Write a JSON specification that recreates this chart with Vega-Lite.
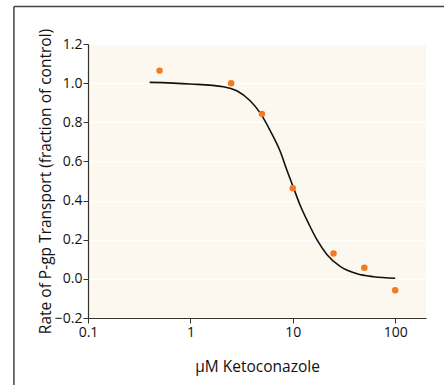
{
  "$schema": "https://vega.github.io/schema/vega-lite/v6.json",
  "width": 338,
  "height": 274,
  "autosize": {"type": "none"},
  "padding": {"left": 88, "top": 44, "right": 18, "bottom": 67},
  "background": "white",
  "config": {
    "font": "Open Sans",
    "view": {"fill": "#fcf8f0", "stroke": null},
    "axis": {
      "labelFont": "Open Sans",
      "titleFont": "Open Sans",
      "labelFontSize": 14,
      "titleFontSize": 15.5,
      "titleFontWeight": "normal",
      "labelColor": "#111",
      "titleColor": "#111",
      "domainColor": "#333",
      "tickColor": "#333",
      "domainWidth": 1.2,
      "tickSize": 5,
      "labelOverlap": false,
      "labelFlush": false
    }
  },
  "datasets": {
    "points": [
      {"conc": 0.5, "rate": 1.064},
      {"conc": 2.5, "rate": 1.0},
      {"conc": 5, "rate": 0.843},
      {"conc": 10, "rate": 0.463},
      {"conc": 25, "rate": 0.13},
      {"conc": 50, "rate": 0.057},
      {"conc": 100, "rate": -0.058}
    ],
    "curve": [
      {"conc": 0.4, "rate": 1.004},
      {"conc": 0.99, "rate": 0.996},
      {"conc": 2.1, "rate": 0.982},
      {"conc": 2.84, "rate": 0.961},
      {"conc": 3.83, "rate": 0.91},
      {"conc": 4.8, "rate": 0.848},
      {"conc": 6.01, "rate": 0.758},
      {"conc": 7.53, "rate": 0.652},
      {"conc": 8.75, "rate": 0.556},
      {"conc": 10.2, "rate": 0.463},
      {"conc": 11.8, "rate": 0.376},
      {"conc": 14.2, "rate": 0.285},
      {"conc": 17.2, "rate": 0.2},
      {"conc": 21.5, "rate": 0.125},
      {"conc": 29.0, "rate": 0.064},
      {"conc": 42.4, "rate": 0.026},
      {"conc": 61.6, "rate": 0.011},
      {"conc": 100, "rate": 0.003}
    ]
  },
  "layer": [
    {
      "data": {"name": "curve"},
      "mark": {"type": "line", "color": "#111", "strokeWidth": 1.6, "interpolate": "monotone"},
      "encoding": {
        "x": {
          "field": "conc",
          "type": "quantitative",
          "scale": {"type": "log", "domain": [0.1, 200], "nice": false},
          "axis": {
            "title": "µM Ketoconazole",
            "values": [0.1, 1, 10, 100],
            "labelExpr": "'' + datum.value",
            "grid": false,
            "labelPadding": 2,
            "titlePadding": 20
          }
        },
        "y": {
          "field": "rate",
          "type": "quantitative",
          "scale": {"domain": [-0.2, 1.2], "nice": false, "zero": false},
          "axis": {
            "title": "Rate of P-gp Transport (fraction of control)",
            "values": [-0.2, 0, 0.2, 0.4, 0.6, 0.8, 1.0, 1.2],
            "format": ".1f",
            "grid": true,
            "gridColor": "white",
            "gridWidth": 1.5,
            "gridOpacity": 1,
            "labelPadding": 1,
            "titlePadding": 1
          }
        }
      }
    },
    {
      "data": {"name": "points"},
      "mark": {"type": "circle", "color": "#f47a20", "opacity": 1, "size": 42},
      "encoding": {
        "x": {
          "field": "conc",
          "type": "quantitative",
          "axis": {
            "title": "µM Ketoconazole",
            "values": [0.1, 1, 10, 100],
            "labelExpr": "'' + datum.value",
            "grid": false,
            "labelPadding": 2,
            "titlePadding": 20
          }
        },
        "y": {
          "field": "rate",
          "type": "quantitative",
          "axis": {
            "title": "Rate of P-gp Transport (fraction of control)",
            "values": [-0.2, 0, 0.2, 0.4, 0.6, 0.8, 1.0, 1.2],
            "format": ".1f",
            "grid": true,
            "gridColor": "white",
            "gridWidth": 1.5,
            "gridOpacity": 1,
            "labelPadding": 1,
            "titlePadding": 1
          }
        }
      }
    },
    {
      "data": {"values": [{}]},
      "mark": {"type": "rule", "color": "#444", "strokeWidth": 1.5, "clip": false},
      "encoding": {
        "x": {
          "datum": 0.0189,
          "axis": {
            "title": "µM Ketoconazole",
            "values": [0.1, 1, 10, 100],
            "labelExpr": "'' + datum.value",
            "grid": false,
            "labelPadding": 2,
            "titlePadding": 20
          }
        },
        "y": {
          "datum": 1.391,
          "axis": {
            "title": "Rate of P-gp Transport (fraction of control)",
            "values": [-0.2, 0, 0.2, 0.4, 0.6, 0.8, 1.0, 1.2],
            "format": ".1f",
            "grid": true,
            "gridColor": "white",
            "gridWidth": 1.5,
            "gridOpacity": 1,
            "labelPadding": 1,
            "titlePadding": 1
          }
        },
        "y2": {"datum": -0.6}
      }
    },
    {
      "data": {"values": [{}]},
      "mark": {"type": "rule", "color": "#444", "strokeWidth": 1.5, "clip": false},
      "encoding": {
        "y": {
          "datum": 1.391,
          "axis": {
            "title": "Rate of P-gp Transport (fraction of control)",
            "values": [-0.2, 0, 0.2, 0.4, 0.6, 0.8, 1.0, 1.2],
            "format": ".1f",
            "grid": true,
            "gridColor": "white",
            "gridWidth": 1.5,
            "gridOpacity": 1,
            "labelPadding": 1,
            "titlePadding": 1
          }
        },
        "x": {
          "datum": 0.0189,
          "axis": {
            "title": "µM Ketoconazole",
            "values": [0.1, 1, 10, 100],
            "labelExpr": "'' + datum.value",
            "grid": false,
            "labelPadding": 2,
            "titlePadding": 20
          }
        },
        "x2": {"datum": 5000}
      }
    }
  ]
}
